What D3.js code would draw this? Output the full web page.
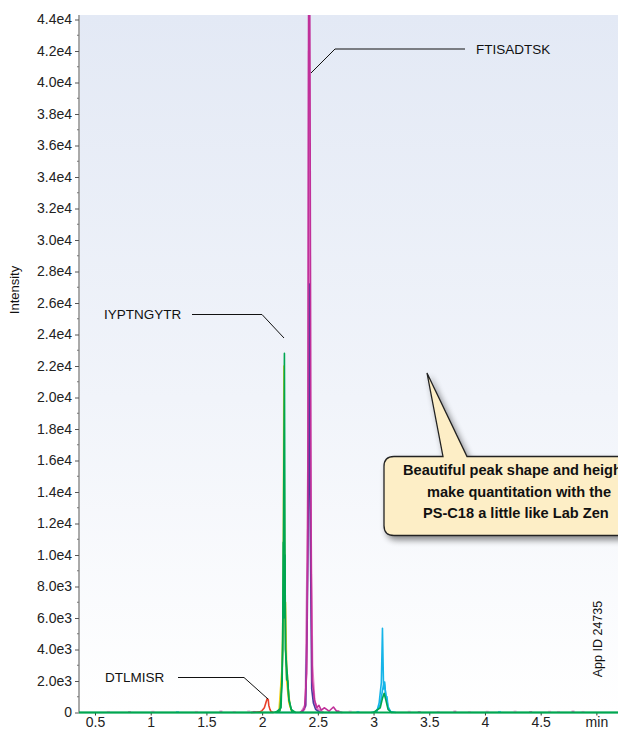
<!DOCTYPE html>
<html><head><meta charset="utf-8">
<script src="https://cdn.jsdelivr.net/npm/d3@7"></script>
<style>html,body{margin:0;padding:0;background:#fff;overflow:hidden}svg{display:block}</style>
</head><body><svg id="c" width="618" height="730"></svg>
<script>
// ---- data ----
const yTickValues = [0,2000,4000,6000,8000,10000,12000,14000,16000,18000,20000,22000,24000,26000,28000,30000,32000,34000,36000,38000,40000,42000,44000];
const yTickLabels = ["0","2.0e3","4.0e3","6.0e3","8.0e3","1.0e4","1.2e4","1.4e4","1.6e4","1.8e4","2.0e4","2.2e4","2.4e4","2.6e4","2.8e4","3.0e4","3.2e4","3.4e4","3.6e4","3.8e4","4.0e4","4.2e4","4.4e4"];
const xTickValues = [0.5,1,1.5,2,2.5,3,3.5,4,4.5,5];
const xTickLabels = ["0.5","1","1.5","2","2.5","3","3.5","4","4.5","min"];

// chromatogram traces: [time (min), intensity]
const yellowTrace = [[2.12,0],[2.16,150],[2.18,2500],[2.19,9000],[2.195,22000],[2.2,12000],[2.205,6800],[2.21,7000],[2.22,3000],[2.235,1500],[2.25,400],[2.27,0]];
const yellowTrace2 = [[2.15,0],[2.18,3000],[2.19,6000],[2.2,7000],[2.21,5000],[2.22,2000],[2.24,600],[2.27,0]];
const redTrace = [[1.9,0],[1.98,40],[2.0,120],[2.02,300],[2.035,650],[2.045,880],[2.055,820],[2.06,450],[2.07,200],[2.08,60],[2.1,0]];
const cyanBase = [[2.12,0],[2.3,0]];
const pinkTrace = [[2.35,0],[2.39,500],[2.405,9400],[2.415,17400],[2.42,42000],[2.43,17400],[2.44,9400],[2.45,3000],[2.47,700],[2.5,200],[2.55,0]];
const purpleTrace = [[2.36,0],[2.39,400],[2.405,6000],[2.415,13600],[2.42,17400],[2.425,27200],[2.43,13600],[2.437,8000],[2.445,1500],[2.46,600],[2.48,200],[2.52,0]];
const magentaTrace = [[2.34,0],[2.38,200],[2.4,2500],[2.41,12000],[2.42,60000],[2.43,40000],[2.44,9400],[2.45,2000],[2.47,800],[2.49,300],[2.51,450],[2.53,150],[2.56,300],[2.6,80],[2.64,350],[2.67,60],[2.72,0]];
const cyanTrace = [[2.98,0],[3.03,80],[3.05,600],[3.07,1900],[3.08,5350],[3.09,1500],[3.1,1940],[3.11,900],[3.12,1000],[3.13,400],[3.15,60],[3.2,0]];
const cyanTrace2 = [[3.02,0],[3.06,500],[3.08,1400],[3.095,1900],[3.11,1200],[3.13,300],[3.16,0]];
const greenTrace2 = [[2.12,0],[2.17,300],[2.185,4000],[2.19,10800],[2.195,6000],[2.2,8000],[2.205,10000],[2.21,4000],[2.225,2500],[2.24,800],[2.27,0]];
const greenTrace = [[0.356,0],[1.9,0],[2.1,0],[2.16,100],[2.18,2000],[2.19,9000],[2.2,22800],[2.205,10800],[2.21,4000],[2.22,2100],[2.23,2000],[2.24,900],[2.26,200],[2.3,0],[3.0,0],[3.06,300],[3.08,900],[3.095,1220],[3.11,800],[3.13,200],[3.16,0],[5.2,0]];
// small baseline noise points: [time, intensity, series colour index]
const noise = [[0.62,60,3],[0.81,40,5],[1.02,70,3],[1.24,50,6],[1.41,60,3],[1.63,80,5],[1.75,50,3],[1.88,90,3],[1.93,60,5],[2.68,120,5],[2.79,80,3],[2.86,60,6],[3.32,70,3],[3.41,50,5],[3.58,60,3],[3.73,80,5],[3.86,50,3],[4.02,70,3],[4.13,60,6],[4.27,80,3],[4.41,50,5],[4.58,70,3],[4.66,60,3],[4.79,80,5],[4.88,60,3]];

const seriesColors = ["#f2cf1a","#e8402a","#2fa8e0","#e07fc4","#4b3aa0","#c0309a","#15b4e8","#00a651"];

const svg = d3.select("#c");
const W = 618, H = 730;
const x = d3.scaleLinear().domain([0.3564, 5.194]).range([79, 618]);
const y = d3.scaleLinear().domain([0, 44000]).range([712.5, 19.5]);
const plotTop = 15, plotBottom = 712.5, plotLeft = 79;

const defs = svg.append("defs");
const grad = defs.append("linearGradient").attr("id","bg").attr("x1",0).attr("y1",0).attr("x2",0).attr("y2",1);
grad.append("stop").attr("offset","0%").attr("stop-color","#e3e9f5");
grad.append("stop").attr("offset","55%").attr("stop-color","#f1f4fa");
grad.append("stop").attr("offset","100%").attr("stop-color","#ffffff");
defs.append("clipPath").attr("id","clip").append("rect")
  .attr("x",plotLeft).attr("y",plotTop).attr("width",W-plotLeft).attr("height",plotBottom-plotTop+2);
const sh = defs.append("filter").attr("id","shadow").attr("x","-20%").attr("y","-20%").attr("width","150%").attr("height","160%");
sh.append("feGaussianBlur").attr("in","SourceAlpha").attr("stdDeviation",3);
sh.append("feOffset").attr("dx",3).attr("dy",4).attr("result","ob");
sh.append("feComponentTransfer").append("feFuncA").attr("type","linear").attr("slope",0.45);
const fm = sh.append("feMerge"); fm.append("feMergeNode"); fm.append("feMergeNode").attr("in","SourceGraphic");

svg.append("rect").attr("x",plotLeft+1).attr("y",plotTop).attr("width",W-plotLeft).attr("height",plotBottom-plotTop)
  .attr("fill","url(#bg)");

// y axis
const yAxis = d3.axisLeft(y).tickValues(yTickValues).tickFormat((d,i)=>yTickLabels[i]).tickSize(4).tickSizeOuter(0);
const gy = svg.append("g").attr("transform",`translate(${plotLeft},0)`).call(yAxis);
gy.select(".domain").attr("stroke","#555").attr("d",`M0,${plotTop}V${plotBottom}`);
gy.selectAll(".tick line").attr("stroke","#555");
gy.selectAll(".tick text").attr("font-family","'Liberation Sans', Arial, sans-serif").attr("font-size",14).attr("fill","#222").attr("x",-7);
// minor ticks
const minor = d3.range(1000,44000,2000);
svg.append("g").selectAll("line").data(minor).join("line")
  .attr("x1",plotLeft-2).attr("x2",plotLeft).attr("y1",d=>y(d)).attr("y2",d=>y(d)).attr("stroke","#777");

// x axis
const xAxis = d3.axisBottom(x).tickValues(xTickValues).tickFormat((d,i)=>xTickLabels[i]).tickSize(3).tickSizeOuter(0);
const gx = svg.append("g").attr("transform",`translate(0,${plotBottom})`).call(xAxis);
gx.select(".domain").remove();
gx.selectAll(".tick line").attr("stroke","#333");
gx.selectAll(".tick text").attr("font-family","'Liberation Sans', Arial, sans-serif").attr("font-size",14).attr("fill","#222").attr("y",4.5);

// traces
const line = d3.line().x(d=>x(d[0])).y(d=>y(d[1]));
const plot = svg.append("g").attr("clip-path","url(#clip)");
const traces = [
  [yellowTrace2,0],[yellowTrace,0],[redTrace,1],[cyanBase,2],[pinkTrace,3],[purpleTrace,4],[magentaTrace,5],
  [cyanTrace2,6],[cyanTrace,6],[greenTrace2,7],[greenTrace,7]
];
plot.selectAll("path.tr").data(traces).join("path").attr("class","tr")
  .attr("d",d=>line(d[0])).attr("fill","none").attr("stroke",d=>seriesColors[d[1]])
  .attr("stroke-width",d=>d[1]===3?2.2:1.6).attr("stroke-linejoin","round");
plot.selectAll("line.nz").data(noise).join("line").attr("class","nz")
  .attr("x1",d=>x(d[0])-1.5).attr("x2",d=>x(d[0])+1.5).attr("y1",d=>y(d[1])).attr("y2",d=>y(d[1]))
  .attr("stroke",d=>seriesColors[d[2]]).attr("stroke-width",1.2).attr("opacity",0.7);
// green baseline on top
plot.append("line").attr("x1",plotLeft).attr("x2",W).attr("y1",y(0)).attr("y2",y(0)).attr("stroke",seriesColors[7]).attr("stroke-width",2);

// peak labels
const lblFont = "'Liberation Sans Narrow', 'Liberation Sans', Arial, sans-serif";
function label(txt, tx, ty, pts){
  svg.append("text").attr("x",tx).attr("y",ty).attr("font-family",lblFont).attr("font-size",13.5).attr("fill","#111").text(txt);
  svg.append("path").attr("d",d3.line()(pts)).attr("fill","none").attr("stroke","#111").attr("stroke-width",1);
}
label("FTISADTSK", 476, 54, [[465,49],[335,49],[311,73]]);
label("IYPTNGYTR", 104, 319, [[192,314.5],[262,314.5],[284,338]]);
label("DTLMISR", 105, 682, [[178,677.5],[244,677.5],[268,699]]);

// axis titles
svg.append("text").attr("transform","translate(19,290) rotate(-90)").attr("text-anchor","middle")
  .attr("font-family",lblFont).attr("font-size",13).attr("fill","#111").text("Intensity");
svg.append("text").attr("transform","translate(602,639) rotate(-90)").attr("text-anchor","middle")
  .attr("font-family","'Liberation Sans', Arial, sans-serif").attr("font-size",12.5).attr("fill","#111").text("App ID 24735");

// callout (its right part runs past the picture edge, as in the reference)
const cg = svg.append("g").attr("filter","url(#shadow)");
const bx=384, by=456.5, bw=260, bh=79, r=10;
const tipX=427, tipY=373, b1=443, b2=467;
const p = `M${bx+r},${by} L${b1},${by} L${tipX},${tipY} L${b2},${by} L${bx+bw},${by} L${bx+bw},${by+bh} L${bx+r},${by+bh} Q${bx},${by+bh} ${bx},${by+bh-r} L${bx},${by+r} Q${bx},${by} ${bx+r},${by} Z`;
cg.append("path").attr("d",p).attr("fill","#fdeec6").attr("stroke","#222").attr("stroke-width",1.3);
const calloutLines = [["Beautiful peak shape and height",403,475],["make quantitation with the",427,497],["PS-C18 a little like Lab Zen",423,518]];
svg.selectAll("text.cl").data(calloutLines).join("text").attr("class","cl")
  .attr("x",d=>d[1]).attr("y",d=>d[2]).attr("font-family",lblFont).attr("font-weight","bold")
  .attr("font-size",14.6).attr("fill","#111").text(d=>d[0]);
</script></body></html>
